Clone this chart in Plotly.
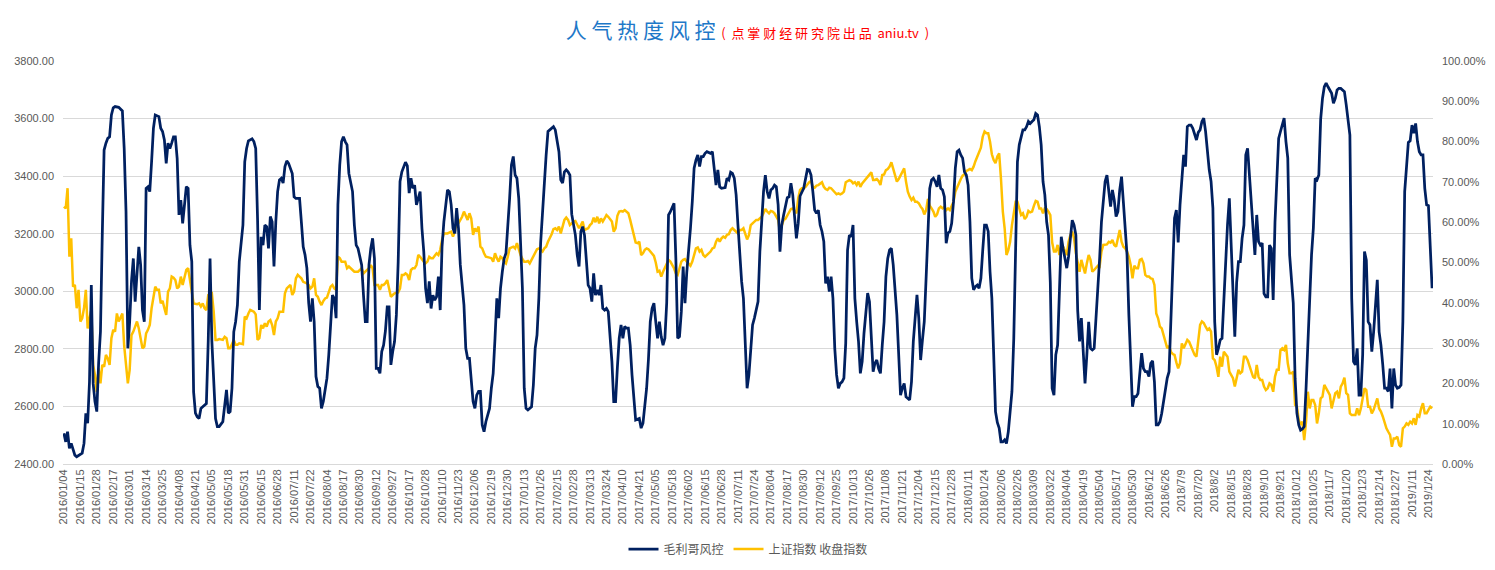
import plotly.graph_objects as go

# ---- x-axis tick labels (one every 9 trading days, starting at trading-day 0) ----
TICK_LABELS = [
    "2016/01/04", "2016/01/15", "2016/01/28", "2016/02/17", "2016/03/01", "2016/03/14", "2016/03/25",
    "2016/04/08", "2016/04/21", "2016/05/05", "2016/05/18", "2016/05/31", "2016/06/15", "2016/06/28",
    "2016/07/11", "2016/07/22", "2016/08/04", "2016/08/17", "2016/08/30", "2016/09/12", "2016/09/27",
    "2016/10/17", "2016/10/28", "2016/11/10", "2016/11/23", "2016/12/06", "2016/12/19", "2016/12/30",
    "2017/01/13", "2017/01/26", "2017/02/15", "2017/02/28", "2017/03/13", "2017/03/24", "2017/04/10",
    "2017/04/21", "2017/05/05", "2017/05/18", "2017/06/02", "2017/06/15", "2017/06/28", "2017/07/11",
    "2017/07/24", "2017/08/04", "2017/08/17", "2017/08/30", "2017/09/12", "2017/09/25", "2017/10/13",
    "2017/10/26", "2017/11/08", "2017/11/21", "2017/12/04", "2017/12/15", "2017/12/28", "2018/01/11",
    "2018/01/24", "2018/02/06", "2018/02/26", "2018/03/09", "2018/03/22", "2018/04/04", "2018/04/19",
    "2018/05/04", "2018/05/17", "2018/05/30", "2018/6/12", "2018/6/26", "2018/7/9", "2018/7/20",
    "2018/8/2", "2018/8/15", "2018/8/28", "2018/9/10", "2018/9/21", "2018/10/12", "2018/10/25",
    "2018/11/7", "2018/11/20", "2018/12/3", "2018/12/14", "2018/12/27", "2019/1/11", "2019/1/24",
]
N_DAYS = 750          # trading days shown (2016/01/04 .. 2019/01/28)
LABEL_EVERY = 9

# ---- 毛利哥风控 (right axis, %), (trading-day index, value) ----
RISK = [
    (0, 7.6), (1, 5.5), (2, 8.0), (3, 3.9), (4, 5.1), (5, 3.9), (6, 2.2), (7, 1.8), (9, 2.4), (10, 2.7),
    (11, 5.1), (12, 12.6), (13, 10.1), (14, 20.4), (15, 44.4), (16, 20.0), (17, 15.5), (18, 13.0), (19, 25.0),
    (20, 32.8), (21, 56.8), (22, 77.9), (23, 79.6), (24, 80.8), (25, 81.2), (26, 86.6), (27, 88.4), (28, 88.7),
    (30, 88.5), (32, 87.6), (33, 78.3), (34, 62.6), (35, 28.7), (36, 35.3), (37, 45.3), (38, 51.0), (39, 40.3),
    (40, 47.7), (41, 53.9), (42, 49.4), (43, 38.2), (44, 35.3), (45, 68.4), (46, 68.8), (47, 67.6), (48, 75.0),
    (49, 83.3), (50, 86.6), (52, 86.2), (53, 83.3), (54, 82.5), (55, 80.4), (56, 74.6), (57, 79.6), (58, 78.3),
    (59, 79.6), (60, 81.2), (61, 81.2), (62, 75.8), (63, 61.8), (64, 65.5), (65, 59.7), (66, 63.5), (67, 68.8),
    (68, 68.4), (69, 54.3), (70, 50.2), (71, 17.9), (72, 12.6), (73, 11.7), (74, 11.3), (75, 13.8), (76, 14.2),
    (77, 14.6), (78, 15.0), (79, 30.4), (80, 51.0), (81, 30.4), (82, 18.8), (83, 11.3), (84, 9.3), (85, 9.3),
    (87, 10.5), (88, 14.6), (89, 18.4), (90, 12.6), (91, 13.0), (92, 18.8), (93, 32.8), (94, 35.3), (95, 39.5),
    (96, 50.2), (98, 59.3), (99, 75.0), (100, 78.3), (101, 80.2), (103, 80.7), (104, 80.0), (105, 78.3),
    (106, 61.0), (107, 38.2), (108, 56.4), (109, 54.3), (110, 59.3), (111, 58.9), (112, 53.5), (113, 61.4),
    (114, 60.1), (115, 49.0), (116, 60.1), (117, 67.6), (118, 70.5), (119, 70.9), (120, 69.7), (121, 73.8),
    (122, 75.2), (123, 74.6), (125, 72.1), (126, 66.3), (127, 65.9), (129, 65.9), (130, 60.0), (131, 53.9),
    (132, 51.9), (133, 48.6), (134, 40.0), (135, 35.3), (136, 41.1), (137, 35.3), (138, 21.7), (139, 19.2),
    (140, 18.8), (141, 13.8), (142, 15.5), (143, 18.8), (144, 21.3), (145, 27.1), (146, 36.2), (147, 41.9),
    (148, 41.1), (149, 36.2), (150, 64.3), (151, 74.2), (152, 80.0), (153, 81.2), (154, 80.0), (155, 79.2),
    (156, 72.1), (157, 69.7), (158, 67.6), (159, 59.3), (160, 54.3), (161, 53.5), (162, 51.0), (163, 49.4),
    (164, 41.9), (165, 35.3), (166, 35.3), (167, 49.4), (168, 53.5), (169, 56.0), (170, 51.0), (171, 23.7),
    (172, 23.7), (173, 22.5), (174, 27.9), (175, 29.5), (176, 33.0), (177, 39.0), (178, 39.0), (179, 24.6),
    (180, 27.9), (181, 30.4), (182, 37.0), (183, 50.2), (184, 70.1), (185, 72.5), (187, 74.9), (188, 74.0),
    (189, 67.2), (190, 70.9), (191, 68.4), (192, 69.2), (193, 64.3), (194, 65.9), (195, 67.6), (196, 58.5),
    (197, 52.7), (198, 43.6), (199, 39.9), (200, 45.3), (201, 38.6), (202, 41.9), (203, 40.7), (204, 41.5),
    (205, 46.5), (206, 38.2), (207, 53.9), (208, 60.1), (209, 64.7), (210, 68.0), (211, 67.6), (212, 64.3),
    (213, 58.5), (214, 57.2), (215, 63.5), (216, 58.5), (217, 49.4), (218, 44.4), (219, 39.5), (220, 28.7),
    (221, 26.2), (222, 26.2), (223, 20.4), (224, 15.5), (225, 13.8), (226, 17.1), (227, 18.0), (228, 18.0),
    (229, 9.7), (230, 8.0), (231, 10.5), (233, 13.8), (234, 18.8), (235, 22.5), (236, 31.2), (237, 41.1),
    (238, 36.2), (239, 43.6), (240, 47.7), (241, 51.0), (242, 52.3), (243, 58.5), (244, 65.9), (245, 74.2),
    (246, 76.3), (247, 71.7), (248, 70.9), (249, 65.9), (250, 55.2), (251, 43.6), (252, 18.8), (253, 13.8),
    (254, 13.4), (256, 14.2), (257, 19.6), (258, 28.7), (259, 32.0), (260, 41.1), (261, 55.0), (262, 63.0),
    (263, 70.9), (264, 76.7), (265, 82.5), (266, 82.9), (267, 83.1), (268, 83.7), (269, 82.9), (270, 80.0),
    (271, 77.5), (272, 70.5), (273, 69.7), (274, 72.5), (275, 73.0), (276, 72.5), (277, 71.7), (278, 62.0),
    (279, 59.3), (280, 56.8), (281, 51.9), (282, 49.0), (283, 57.7), (284, 58.9), (285, 56.8), (286, 50.6),
    (287, 44.4), (288, 43.6), (289, 40.3), (290, 47.3), (291, 41.9), (292, 43.2), (293, 41.9), (294, 44.4),
    (295, 38.6), (296, 38.2), (297, 38.6), (298, 37.8), (299, 32.0), (300, 25.4), (301, 15.5), (302, 15.5),
    (303, 24.0), (304, 31.2), (305, 34.5), (306, 31.2), (307, 34.1), (308, 33.7), (309, 33.7), (310, 29.5),
    (311, 22.1), (312, 15.5), (313, 10.9), (315, 11.3), (316, 8.9), (317, 10.1), (318, 13.8), (319, 18.8),
    (320, 26.0), (321, 35.3), (322, 38.6), (323, 39.9), (324, 35.3), (325, 31.2), (326, 35.3), (327, 31.6),
    (328, 29.5), (329, 31.2), (330, 40.0), (331, 61.8), (332, 62.6), (333, 63.9), (334, 64.7), (335, 51.0),
    (336, 31.2), (337, 31.6), (338, 37.8), (339, 49.0), (340, 39.9), (341, 47.7), (342, 52.7), (343, 58.5),
    (344, 65.1), (345, 73.4), (346, 75.4), (347, 76.7), (348, 73.8), (349, 76.3), (350, 76.3), (351, 77.1),
    (352, 77.5), (354, 77.1), (355, 77.5), (356, 73.4), (357, 69.2), (358, 73.0), (359, 68.8), (360, 68.4),
    (362, 68.6), (363, 70.9), (364, 70.5), (365, 72.4), (366, 72.1), (367, 70.9), (368, 66.8), (369, 59.3),
    (370, 51.0), (371, 45.3), (372, 41.1), (373, 30.0), (374, 18.8), (375, 22.1), (376, 28.0), (377, 34.5),
    (378, 36.2), (379, 38.2), (380, 40.3), (381, 52.7), (382, 61.0), (383, 67.6), (384, 71.7), (385, 67.6),
    (386, 65.9), (387, 68.0), (388, 68.4), (389, 69.2), (390, 68.8), (391, 64.3), (392, 52.7), (393, 59.3),
    (394, 61.8), (395, 64.3), (396, 66.1), (397, 66.3), (398, 69.7), (399, 66.8), (400, 61.0), (401, 56.0),
    (402, 59.7), (403, 66.5), (405, 68.4), (406, 70.9), (407, 73.1), (408, 73.0), (409, 71.7), (410, 67.6),
    (411, 63.0), (412, 62.2), (413, 63.0), (414, 59.3), (415, 57.7), (416, 55.2), (417, 44.8), (418, 46.5),
    (419, 42.8), (420, 46.5), (421, 41.1), (422, 28.7), (423, 22.1), (424, 18.8), (425, 20.0), (426, 20.4),
    (427, 21.3), (428, 30.0), (429, 53.1), (430, 56.8), (431, 56.4), (432, 59.3), (433, 41.1), (434, 35.3),
    (435, 30.4), (436, 22.5), (437, 25.4), (438, 32.4), (439, 37.8), (440, 42.4), (441, 40.3), (442, 30.8),
    (443, 22.9), (444, 25.0), (445, 25.8), (446, 23.7), (447, 22.5), (448, 29.5), (449, 35.3), (450, 46.5),
    (451, 51.0), (452, 53.1), (453, 53.5), (454, 49.4), (455, 43.6), (456, 37.0), (457, 27.1), (458, 17.1),
    (459, 18.8), (460, 20.0), (461, 16.7), (462, 16.3), (463, 15.9), (464, 20.4), (465, 30.4), (466, 36.2),
    (467, 42.0), (468, 36.2), (469, 25.8), (470, 30.8), (471, 35.3), (472, 46.1), (473, 58.0), (474, 68.4),
    (475, 70.5), (476, 70.9), (477, 70.1), (478, 68.8), (479, 71.7), (480, 68.4), (481, 68.0), (482, 66.3),
    (483, 54.8), (484, 57.3), (485, 57.7), (486, 59.7), (487, 65.1), (488, 73.4), (489, 77.5), (490, 77.9),
    (491, 76.7), (492, 75.9), (493, 72.5), (494, 71.7), (495, 69.2), (496, 60.1), (497, 46.1), (498, 43.2),
    (499, 44.0), (500, 44.4), (501, 43.6), (502, 46.1), (503, 53.0), (504, 59.3), (505, 59.3), (506, 57.7),
    (507, 47.7), (508, 41.1), (509, 27.1), (510, 13.0), (511, 10.3), (512, 8.9), (513, 5.5), (514, 5.5),
    (515, 6.0), (516, 5.1), (517, 8.0), (518, 12.2), (519, 18.0), (520, 31.2), (521, 55.0), (522, 75.0),
    (523, 79.2), (524, 80.8), (525, 82.9), (526, 82.9), (527, 83.7), (528, 85.0), (529, 84.5), (530, 85.0),
    (531, 85.4), (532, 87.0), (533, 86.6), (534, 83.7), (535, 79.2), (536, 70.1), (537, 66.8), (538, 60.1),
    (539, 56.8), (540, 45.0), (541, 18.8), (542, 17.1), (543, 27.1), (544, 29.5), (545, 42.0), (546, 56.4),
    (547, 53.5), (548, 50.6), (549, 48.6), (550, 51.5), (551, 56.4), (552, 60.5), (553, 59.3), (554, 56.8),
    (555, 38.0), (556, 30.4), (557, 36.2), (558, 29.0), (559, 20.0), (560, 27.1), (561, 35.3), (562, 28.7),
    (563, 28.3), (564, 28.7), (565, 35.3), (566, 41.9), (567, 51.0), (568, 60.1), (569, 65.9), (570, 70.1),
    (571, 71.7), (572, 66.8), (573, 63.9), (574, 68.0), (575, 65.5), (576, 61.4), (577, 62.6), (578, 68.0),
    (579, 71.3), (580, 65.0), (581, 57.7), (582, 51.9), (583, 37.0), (584, 22.9), (585, 14.2), (586, 16.7),
    (587, 16.7), (588, 17.5), (589, 23.7), (590, 27.5), (591, 23.7), (592, 22.9), (593, 22.9), (594, 21.7),
    (595, 25.0), (596, 25.6), (597, 20.4), (598, 9.7), (599, 9.7), (600, 10.5), (601, 12.6), (602, 15.5),
    (603, 18.8), (604, 21.3), (605, 22.9), (606, 35.3), (607, 48.6), (608, 61.0), (609, 63.0), (610, 55.0),
    (611, 64.3), (612, 71.7), (613, 76.7), (614, 73.8), (615, 83.7), (616, 84.1), (617, 84.1), (618, 83.3),
    (619, 82.1), (620, 80.4), (621, 82.3), (622, 82.9), (623, 85.0), (624, 85.8), (625, 82.5), (626, 76.7),
    (627, 73.0), (628, 70.1), (629, 63.5), (630, 35.3), (631, 27.1), (632, 28.7), (633, 30.8), (634, 31.2),
    (635, 40.3), (636, 52.7), (637, 59.3), (638, 65.9), (639, 53.5), (640, 43.6), (641, 31.6), (642, 45.0),
    (643, 50.2), (644, 50.2), (645, 56.0), (646, 59.3), (647, 76.7), (648, 78.3), (649, 71.7), (650, 64.3),
    (651, 56.8), (652, 51.9), (653, 61.8), (654, 55.2), (655, 54.3), (656, 54.8), (657, 42.3), (658, 41.5),
    (659, 41.5), (660, 54.3), (661, 53.5), (662, 40.7), (663, 60.0), (664, 71.7), (665, 80.8), (666, 82.5),
    (667, 84.1), (668, 85.8), (669, 80.0), (670, 75.9), (671, 51.9), (672, 46.9), (673, 40.0), (674, 21.3),
    (675, 12.6), (676, 9.7), (677, 8.4), (678, 8.7), (679, 9.3), (680, 18.8), (681, 31.2), (682, 43.6),
    (683, 51.9), (684, 58.5), (685, 70.9), (686, 70.5), (687, 71.7), (688, 85.5), (689, 90.7), (690, 93.6),
    (691, 94.5), (692, 93.6), (693, 92.8), (694, 92.0), (695, 89.5), (696, 90.7), (697, 92.8), (698, 93.2),
    (699, 93.2), (700, 92.8), (701, 92.4), (702, 89.1), (703, 85.8), (704, 81.6), (705, 41.1), (706, 25.4),
    (707, 24.6), (708, 28.7), (709, 17.1), (710, 17.1), (711, 27.1), (712, 52.7), (713, 50.6), (714, 35.3),
    (715, 34.5), (716, 27.9), (717, 32.8), (718, 40.3), (719, 45.7), (720, 32.8), (721, 29.5), (722, 24.6),
    (723, 18.8), (724, 18.8), (725, 18.0), (726, 23.7), (727, 13.8), (728, 23.7), (729, 19.6), (730, 18.8),
    (731, 19.0), (732, 19.6), (733, 35.3), (734, 67.6), (735, 74.2), (736, 79.8), (737, 80.2), (738, 84.1),
    (739, 82.1), (740, 84.5), (741, 80.0), (742, 77.5), (743, 76.7), (744, 76.7), (745, 68.4), (746, 64.3),
    (747, 64.1), (748, 55.0), (749, 43.6),
]

# ---- 上证指数 收盘指数 (left axis), (trading-day index, close) ----
SSE = [
    (0, 3294), (1, 3288), (2, 3358), (3, 3120), (4, 3184), (5, 3016), (6, 3022), (7, 2941), (8, 3005), (9, 2895),
    (10, 2906), (11, 2941), (12, 3005), (13, 2871), (14, 2906), (15, 2935), (16, 2744), (17, 2709), (18, 2651),
    (19, 2732), (20, 2680), (21, 2744), (22, 2738), (23, 2779), (24, 2767), (25, 2744), (26, 2837), (27, 2866),
    (28, 2860), (29, 2923), (30, 2895), (32, 2923), (33, 2810), (34, 2750), (35, 2680), (36, 2727), (37, 2848),
    (38, 2860), (39, 2877), (40, 2895), (41, 2871), (43, 2802), (44, 2808), (45, 2854), (46, 2866), (47, 2883),
    (48, 2941), (50, 3016), (51, 3005), (52, 3005), (53, 2958), (54, 2967), (55, 2941), (56, 2918), (57, 2999),
    (58, 3010), (59, 3051), (60, 3047), (61, 3039), (62, 3010), (63, 3016), (64, 3051), (65, 3022), (66, 3051),
    (67, 3074), (68, 3080), (69, 3033), (70, 2999), (71, 2958), (73, 2955), (74, 2958), (75, 2947), (76, 2958),
    (77, 2941), (78, 2935), (79, 2987), (81, 2993), (82, 2929), (83, 2831), (84, 2831), (85, 2834), (87, 2831),
    (88, 2842), (89, 2837), (90, 2802), (91, 2802), (93, 2831), (94, 2814), (95, 2814), (96, 2819), (98, 2816),
    (99, 2912), (100, 2906), (101, 2923), (102, 2935), (104, 2929), (105, 2920), (106, 2831), (107, 2837),
    (108, 2883), (109, 2871), (110, 2889), (111, 2877), (112, 2895), (113, 2900), (114, 2883), (115, 2848),
    (116, 2895), (117, 2906), (118, 2929), (120, 2929), (121, 2993), (122, 3010), (123, 3016), (124, 3022),
    (125, 2987), (126, 2999), (127, 3045), (128, 3057), (129, 3051), (130, 3045), (131, 3033), (133, 3028),
    (134, 3022), (135, 3010), (136, 3016), (137, 3045), (138, 2987), (139, 2981), (140, 2964), (141, 2952),
    (142, 2966), (143, 2975), (144, 2978), (145, 2999), (146, 3016), (147, 3022), (148, 3010), (149, 3005),
    (150, 3120), (151, 3115), (152, 3103), (154, 3103), (155, 3080), (156, 3086), (157, 3080), (159, 3068),
    (160, 3068), (161, 3068), (163, 3080), (164, 3062), (165, 3068), (167, 3080), (168, 3091), (169, 3080),
    (170, 3022), (172, 3022), (173, 3005), (174, 3022), (175, 3022), (176, 3028), (177, 3039), (178, 3010),
    (179, 2981), (180, 2987), (181, 2993), (183, 2996), (184, 3010), (185, 3057), (186, 3057), (187, 3062),
    (188, 3057), (189, 3039), (190, 3074), (191, 3080), (192, 3080), (193, 3091), (194, 3126), (195, 3120),
    (196, 3109), (197, 3103), (198, 3097), (199, 3103), (200, 3120), (201, 3115), (202, 3115), (203, 3126),
    (204, 3132), (205, 3126), (206, 3144), (207, 3178), (208, 3201), (209, 3201), (210, 3201), (212, 3207),
    (213, 3190), (214, 3207), (215, 3242), (216, 3236), (217, 3248), (218, 3259), (219, 3277), (220, 3265),
    (221, 3248), (222, 3271), (223, 3253), (224, 3196), (225, 3219), (226, 3207), (227, 3225), (228, 3155),
    (229, 3149), (230, 3132), (231, 3120), (233, 3117), (234, 3115), (235, 3103), (236, 3132), (237, 3115),
    (238, 3103), (239, 3120), (240, 3115), (241, 3103), (242, 3097), (243, 3120), (244, 3149), (246, 3155),
    (247, 3149), (248, 3167), (249, 3144), (250, 3126), (251, 3112), (252, 3103), (253, 3103), (254, 3105),
    (255, 3097), (256, 3109), (257, 3126), (258, 3138), (259, 3146), (260, 3149), (262, 3138), (263, 3149),
    (264, 3155), (265, 3172), (266, 3184), (267, 3198), (268, 3216), (269, 3219), (270, 3213), (271, 3225),
    (272, 3201), (273, 3228), (274, 3248), (275, 3256), (276, 3248), (277, 3230), (279, 3242), (280, 3244),
    (281, 3230), (282, 3219), (283, 3230), (284, 3242), (285, 3213), (287, 3219), (288, 3230), (289, 3236),
    (290, 3256), (291, 3240), (292, 3259), (293, 3236), (294, 3253), (295, 3242), (296, 3253), (297, 3265),
    (298, 3259), (300, 3242), (301, 3207), (302, 3219), (303, 3262), (304, 3277), (305, 3279), (306, 3277),
    (307, 3282), (308, 3277), (309, 3271), (310, 3248), (311, 3219), (312, 3196), (313, 3169), (314, 3167),
    (315, 3172), (316, 3126), (317, 3132), (318, 3144), (319, 3149), (320, 3146), (321, 3138), (322, 3128),
    (323, 3123), (324, 3100), (325, 3068), (326, 3071), (327, 3051), (328, 3068), (329, 3082), (330, 3097),
    (331, 3109), (332, 3103), (333, 3091), (334, 3080), (335, 3062), (336, 3057), (337, 3080), (338, 3103),
    (339, 3109), (340, 3112), (341, 3103), (342, 3094), (343, 3089), (344, 3103), (345, 3130), (346, 3149),
    (347, 3152), (348, 3138), (349, 3144), (350, 3126), (351, 3120), (352, 3126), (353, 3132), (354, 3138),
    (355, 3149), (356, 3152), (357, 3172), (358, 3184), (359, 3172), (360, 3184), (361, 3190), (362, 3186),
    (363, 3196), (364, 3198), (365, 3213), (366, 3219), (367, 3213), (368, 3207), (369, 3201), (370, 3213),
    (371, 3213), (372, 3219), (373, 3196), (374, 3180), (375, 3195), (376, 3230), (377, 3236), (378, 3242),
    (379, 3248), (380, 3248), (381, 3254), (382, 3259), (383, 3271), (384, 3286), (385, 3277), (386, 3271),
    (387, 3279), (388, 3277), (389, 3271), (390, 3259), (391, 3248), (392, 3207), (393, 3230), (394, 3248),
    (395, 3252), (396, 3265), (397, 3277), (398, 3286), (399, 3288), (400, 3277), (401, 3271), (402, 3323),
    (403, 3352), (404, 3358), (405, 3358), (406, 3363), (407, 3372), (408, 3379), (409, 3383), (410, 3363),
    (411, 3360), (412, 3367), (413, 3369), (414, 3375), (415, 3379), (416, 3363), (417, 3355), (418, 3352),
    (419, 3360), (420, 3358), (421, 3352), (422, 3344), (423, 3337), (424, 3340), (425, 3337), (426, 3340),
    (427, 3346), (428, 3379), (429, 3383), (430, 3386), (431, 3383), (432, 3375), (433, 3379), (434, 3369),
    (435, 3381), (436, 3363), (437, 3375), (438, 3383), (439, 3390), (440, 3398), (441, 3406), (442, 3413),
    (443, 3387), (444, 3387), (445, 3390), (446, 3383), (447, 3369), (448, 3404), (449, 3406), (450, 3421),
    (451, 3425), (452, 3433), (453, 3448), (454, 3427), (455, 3398), (456, 3381), (457, 3390), (458, 3402),
    (459, 3416), (460, 3427), (461, 3381), (462, 3346), (463, 3329), (464, 3317), (465, 3325), (466, 3311),
    (467, 3311), (468, 3306), (469, 3294), (470, 3286), (471, 3267), (472, 3282), (473, 3321), (474, 3297),
    (475, 3288), (476, 3277), (477, 3259), (478, 3267), (479, 3288), (480, 3294), (481, 3288), (482, 3294),
    (483, 3282), (484, 3288), (485, 3282), (486, 3294), (487, 3311), (488, 3346), (489, 3358), (490, 3375),
    (491, 3390), (492, 3402), (493, 3406), (494, 3418), (495, 3421), (496, 3425), (497, 3421), (498, 3433),
    (499, 3452), (500, 3468), (501, 3483), (502, 3499), (503, 3537), (504, 3555), (505, 3549), (506, 3549),
    (507, 3520), (508, 3476), (509, 3456), (510, 3445), (511, 3468), (512, 3479), (513, 3390), (514, 3277),
    (515, 3219), (516, 3126), (517, 3143), (518, 3172), (519, 3230), (520, 3271), (521, 3311), (522, 3311),
    (523, 3282), (524, 3265), (525, 3271), (526, 3251), (527, 3259), (528, 3279), (529, 3274), (530, 3277),
    (531, 3297), (532, 3314), (533, 3311), (534, 3288), (535, 3288), (536, 3271), (537, 3288), (538, 3286),
    (539, 3277), (540, 3265), (541, 3170), (542, 3138), (543, 3138), (544, 3161), (545, 3126), (546, 3158),
    (547, 3155), (548, 3138), (549, 3126), (550, 3172), (551, 3196), (552, 3207), (553, 3184), (554, 3132),
    (555, 3103), (556, 3068), (557, 3109), (558, 3086), (559, 3062), (560, 3097), (561, 3126), (562, 3109),
    (563, 3068), (564, 3074), (565, 3080), (566, 3089), (567, 3086), (568, 3138), (569, 3161), (570, 3161),
    (571, 3163), (572, 3172), (573, 3169), (574, 3178), (575, 3161), (576, 3155), (577, 3190), (578, 3213),
    (579, 3172), (580, 3155), (581, 3149), (582, 3138), (583, 3120), (584, 3091), (585, 3045), (586, 3089),
    (587, 3080), (588, 3080), (589, 3109), (590, 3112), (591, 3097), (592, 3057), (593, 3051), (594, 3051),
    (595, 3045), (596, 3043), (597, 3022), (598, 2923), (599, 2906), (600, 2877), (601, 2871), (602, 2848),
    (603, 2831), (604, 2802), (605, 2810), (606, 2790), (607, 2782), (608, 2779), (609, 2753), (610, 2732),
    (611, 2750), (612, 2819), (613, 2802), (614, 2814), (615, 2831), (616, 2825), (617, 2811), (618, 2793),
    (619, 2779), (620, 2773), (621, 2837), (622, 2883), (623, 2895), (624, 2890), (625, 2877), (626, 2866),
    (627, 2871), (628, 2860), (629, 2767), (630, 2761), (631, 2738), (632, 2703), (633, 2773), (634, 2738),
    (635, 2790), (636, 2779), (637, 2773), (638, 2721), (639, 2709), (640, 2698), (641, 2669), (642, 2698),
    (643, 2727), (644, 2715), (645, 2721), (646, 2773), (647, 2773), (648, 2761), (649, 2744), (650, 2727),
    (651, 2703), (652, 2698), (653, 2744), (654, 2703), (655, 2692), (656, 2692), (657, 2669), (658, 2657),
    (659, 2663), (660, 2680), (661, 2675), (662, 2651), (663, 2703), (664, 2727), (665, 2727), (666, 2796),
    (667, 2802), (668, 2796), (669, 2814), (670, 2750), (671, 2715), (672, 2715), (673, 2721), (674, 2605),
    (675, 2599), (676, 2553), (677, 2536), (678, 2547), (679, 2483), (680, 2547), (681, 2651), (682, 2593),
    (683, 2622), (684, 2622), (685, 2605), (686, 2541), (687, 2576), (688, 2628), (689, 2634), (690, 2675),
    (691, 2663), (692, 2651), (693, 2640), (694, 2593), (695, 2622), (696, 2646), (697, 2651), (698, 2628),
    (699, 2669), (700, 2680), (701, 2700), (702, 2646), (703, 2640), (704, 2576), (705, 2570), (706, 2570),
    (707, 2570), (708, 2593), (709, 2570), (710, 2593), (711, 2634), (712, 2663), (713, 2657), (714, 2599),
    (715, 2599), (716, 2576), (717, 2588), (718, 2611), (719, 2628), (720, 2593), (721, 2582), (722, 2565),
    (723, 2541), (724, 2524), (725, 2512), (726, 2501), (727, 2460), (728, 2489), (729, 2489), (730, 2495),
    (731, 2466), (732, 2460), (733, 2524), (734, 2530), (735, 2541), (736, 2536), (737, 2547), (738, 2541),
    (739, 2559), (740, 2536), (741, 2570), (742, 2565), (743, 2593), (744, 2611), (745, 2576), (746, 2576),
    (747, 2588), (748, 2599), (749, 2593),
]

risk_x = [p[0] for p in RISK]
risk_y = [p[1] for p in RISK]
sse_x = [p[0] for p in SSE]
sse_y = [p[1] for p in SSE]

NAVY = "#002060"
GOLD = "#FFC000"
GRID = "#D9D9D9"
TXT = "#595959"
TICK_FONT = dict(family="Liberation Sans, Arial, sans-serif", size=11, color=TXT)

fig = go.Figure()
fig.add_trace(go.Scatter(
    x=risk_x, y=risk_y, name="毛利哥风控", mode="lines", yaxis="y2",
    line=dict(color=NAVY, width=2.75),
))
fig.add_trace(go.Scatter(
    x=sse_x, y=sse_y, name="上证指数 收盘指数", mode="lines", yaxis="y",
    line=dict(color=GOLD, width=2.5),
))

title_html = (
    "<span style='color:#1E78C8;font-size:21px'>人 气 热 度 风 控</span>"
    "<span style='color:#FF0000;font-size:13px'>  (  点 掌 财 经 研 究 院 出 品  aniu.tv  )</span>"
)

fig.update_layout(
    width=1495, height=570,
    margin=dict(l=63, r=62, t=61, b=106, autoexpand=False),
    paper_bgcolor="white", plot_bgcolor="white",
    font=dict(family="Noto Sans CJK SC, sans-serif", color=TXT),
    title=dict(text=title_html, x=0.5, xref="container", xanchor="center",
               y=1 - 32 / 570, yref="container", yanchor="middle",
               font=dict(family="Noto Sans CJK SC, sans-serif")),
    showlegend=True,
    legend=dict(orientation="h", x=0.5, xanchor="center",
                y=(570 - 549) / 570, yref="container", yanchor="middle",
                font=dict(family="Noto Sans CJK SC, sans-serif", size=12, color=TXT),
                itemwidth=30, bgcolor="rgba(0,0,0,0)"),
    xaxis=dict(
        range=[-0.5, N_DAYS - 0.5],
        tickmode="array",
        tickvals=[i * LABEL_EVERY for i in range(len(TICK_LABELS))],
        ticktext=TICK_LABELS,
        tickangle=-90, tickfont=TICK_FONT,
        showgrid=False, zeroline=False,
        showline=True, linecolor=GRID, linewidth=1,
        ticks="", automargin=False,
    ),
    yaxis=dict(
        range=[2400, 3800], dtick=200, tick0=2400, tickformat=".2f",
        tickfont=TICK_FONT, gridcolor=GRID, gridwidth=1,
        zeroline=False, showline=False, ticks="", ticklabelstandoff=8, automargin=False,
    ),
    yaxis2=dict(
        range=[0, 100], dtick=10, tick0=0, tickformat=".2f", ticksuffix="%",
        overlaying="y", side="right", showgrid=False,
        tickfont=TICK_FONT, zeroline=False, showline=False, ticks="", ticklabelstandoff=8,
        automargin=False,
    ),
)

fig.write_html("out.html")
